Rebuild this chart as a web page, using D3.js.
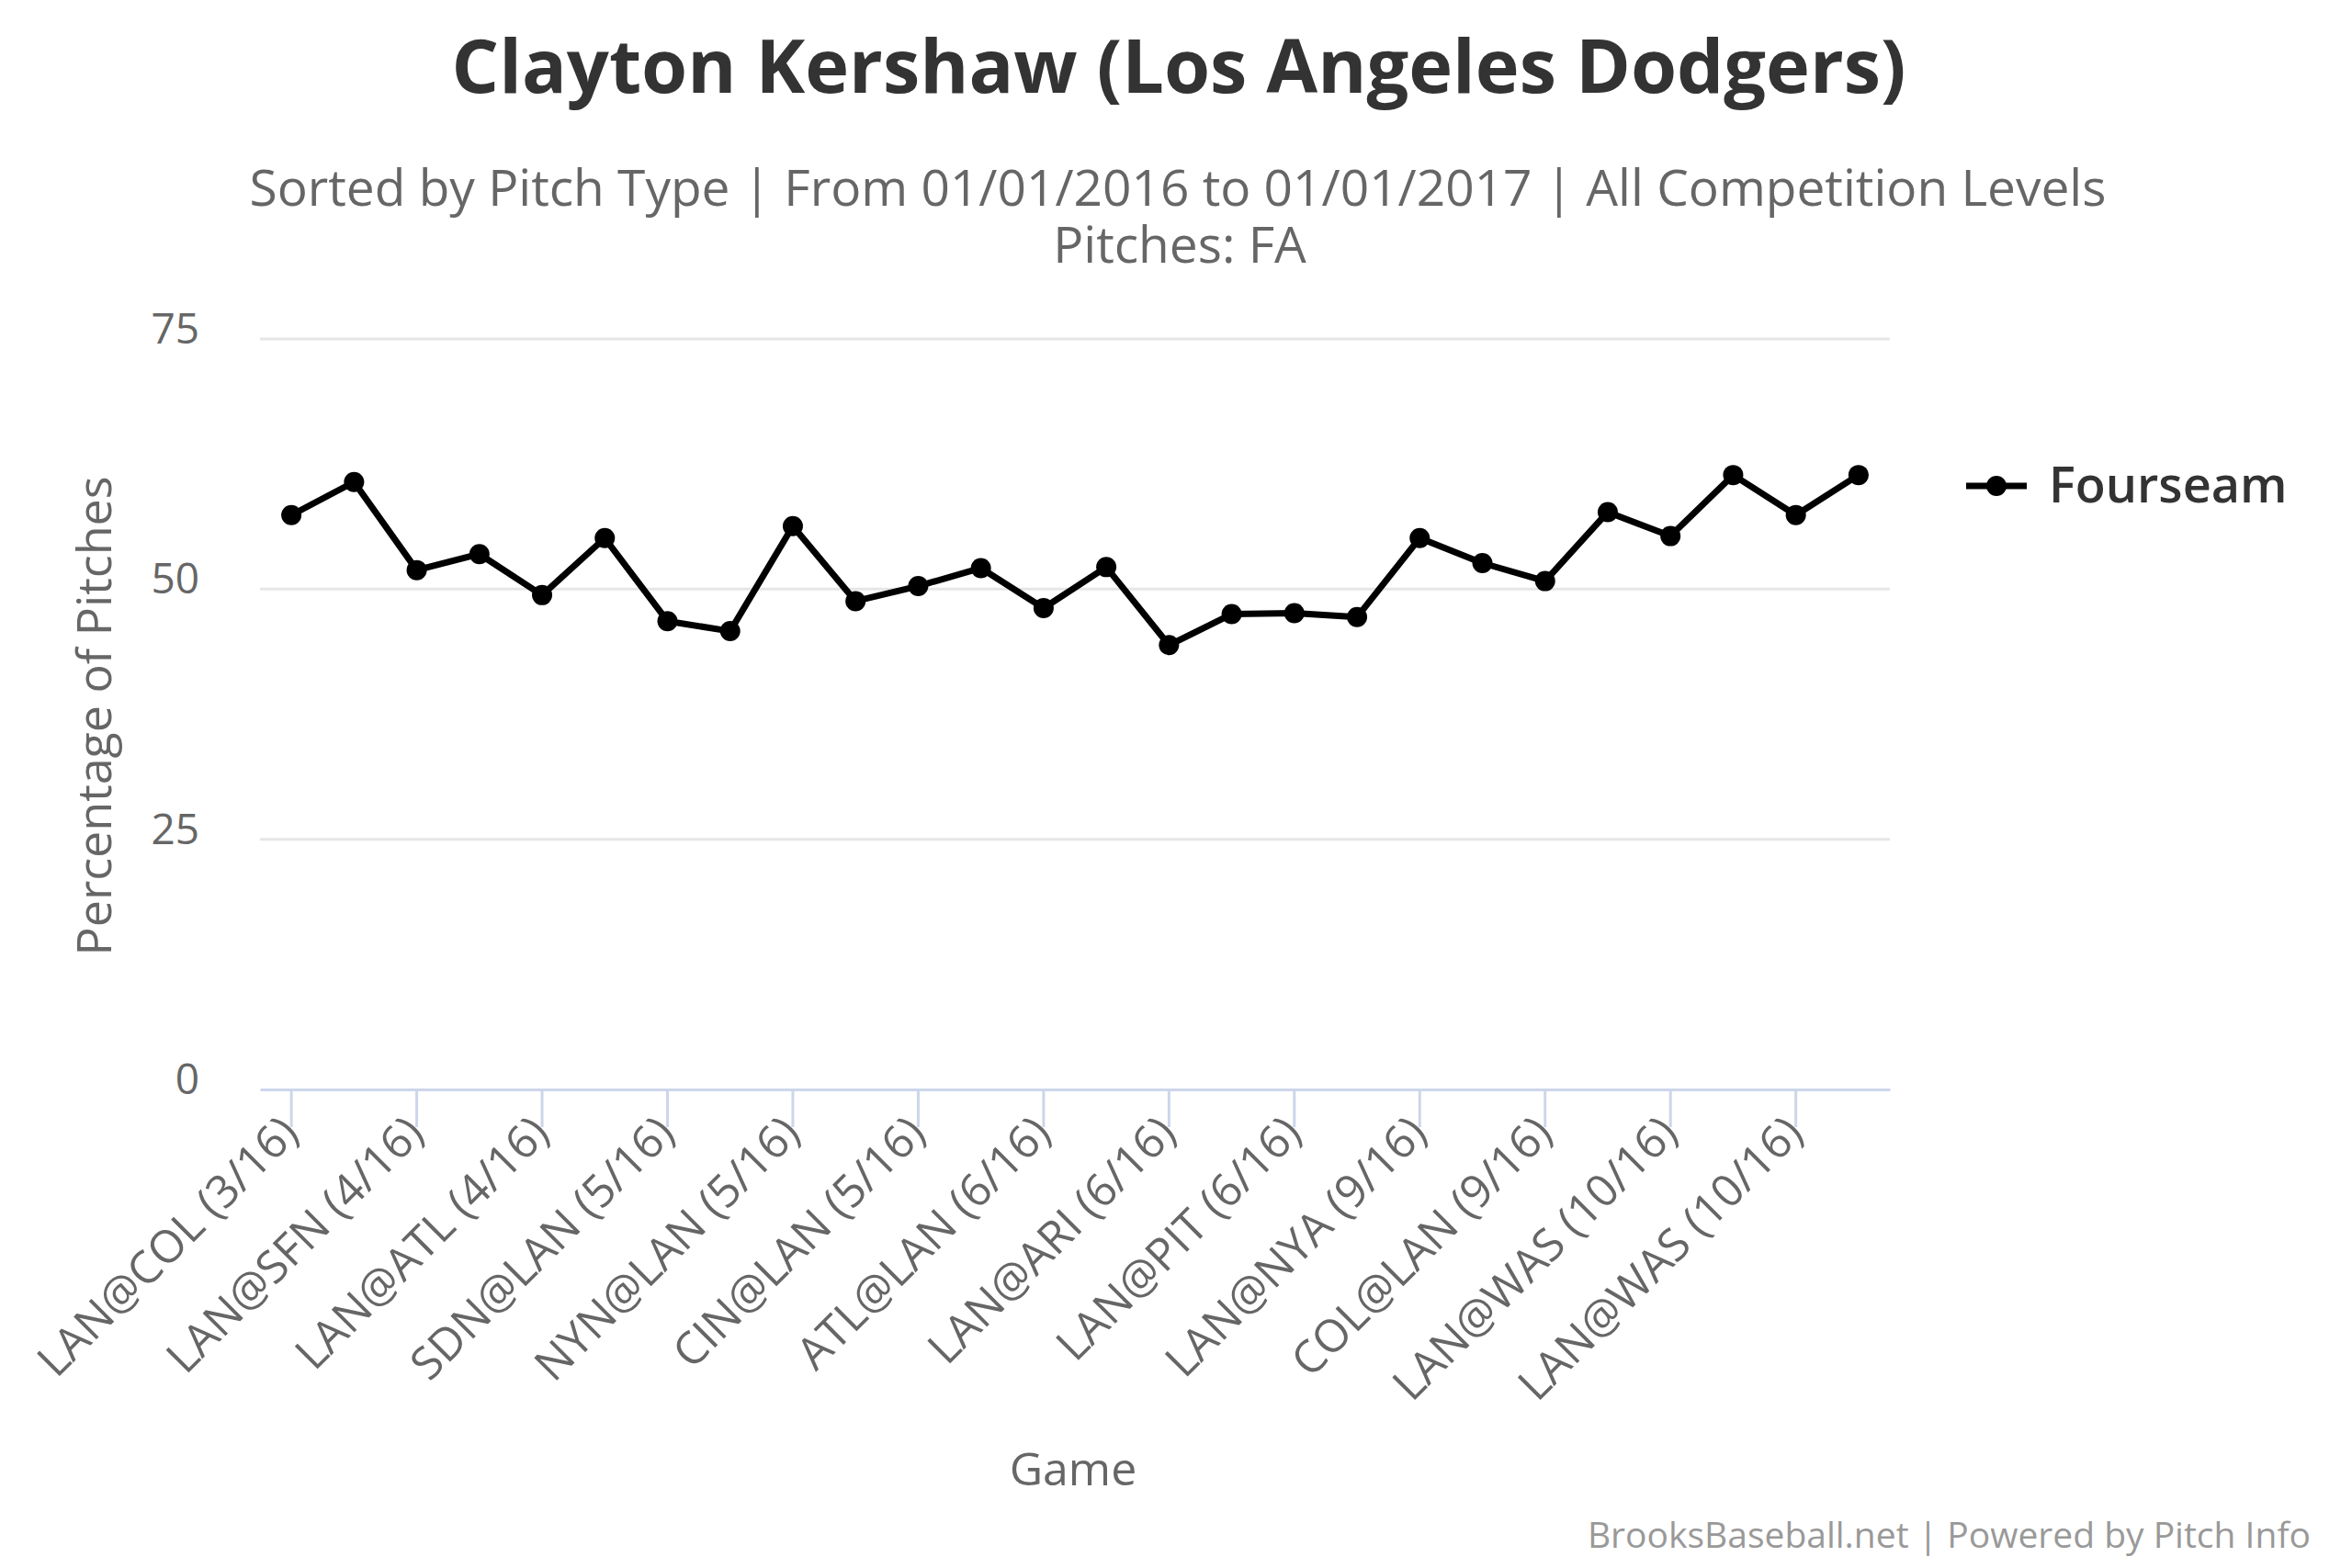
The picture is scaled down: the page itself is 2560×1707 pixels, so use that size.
<!DOCTYPE html>
<html>
<head>
<meta charset="utf-8">
<script src="https://cdn.jsdelivr.net/npm/d3@7"></script>
<style>
  body { margin: 0; background: #fff; }
  svg { font-family: "Open Sans", sans-serif; }
</style>
</head>
<body>
<svg id="chart"></svg>
<script>
let width = 2560
let height = 1707
let margin = {top: 369, right: 503, bottom: 521, left: 283}

// percentage of fourseam fastballs per game, 2016
let percentages = [57.4, 60.7, 51.9, 53.5, 49.4, 55.1, 46.8, 45.8, 56.3, 48.8, 50.3, 52.1, 48.1,
    52.2, 44.4, 47.5, 47.6, 47.2, 55.1, 52.6, 50.8, 57.7, 55.3, 61.4, 57.4, 61.4]

// only every other game is labelled on the axis
let tickLabels = ["LAN@COL (3/16)", "LAN@SFN (4/16)", "LAN@ATL (4/16)", "SDN@LAN (5/16)",
    "NYN@LAN (5/16)", "CIN@LAN (5/16)", "ATL@LAN (6/16)", "LAN@ARI (6/16)", "LAN@PIT (6/16)",
    "LAN@NYA (9/16)", "COL@LAN (9/16)", "LAN@WAS (10/16)", "LAN@WAS (10/16)"]

let yTicks = [0, 25, 50, 75]

let games = percentages.map((d, i) => i)
let data = percentages.map((d, i) => ({game: i, pct: d}))

let innerW = width - margin.left - margin.right
let innerH = height - margin.top - margin.bottom

let xScale = d3.scaleBand().domain(games).range([0, innerW])
let yScale = d3.scaleLinear().domain([0, 75]).range([innerH, 0])
let xPos = i => xScale(i) + xScale.bandwidth() / 2

let svg = d3.select("#chart")
    .attr("width", width)
    .attr("height", height)

svg.append("text")
    .text("Clayton Kershaw (Los Angeles Dodgers)")
    .attr("x", 1283)
    .attr("y", 101)
    .attr("text-anchor", "middle")
    .attr("font-size", 81)
    .attr("font-weight", "bold")
    .attr("fill", "#333333")

// subtitle is one text with two lines, like highcharts does it
let subtitle = svg.append("text")
    .attr("text-anchor", "middle")
    .attr("font-size", 55)
    .attr("fill", "#666666")
subtitle.append("tspan")
    .text("Sorted by Pitch Type | From 01/01/2016 to 01/01/2017 | All Competition Levels")
    .attr("x", 1282)
    .attr("y", 224)
subtitle.append("tspan")
    .text("Pitches: FA")
    .attr("x", 1284)
    .attr("y", 286)

let plot = svg.append("g").attr("transform", "translate(" + margin.left + "," + margin.top + ")")

// grid
plot.append("g")
    .selectAll("line")
    .data(yTicks.filter(d => d > 0))
    .enter()
    .append("line")
    .attr("x1", 0)
    .attr("x2", innerW)
    .attr("y1", d => yScale(d))
    .attr("y2", d => yScale(d))
    .attr("stroke", "#e6e6e6")
    .attr("stroke-width", 3)

// y axis
let yAxis = plot.append("g")
    .attr("id", "y_axis")
    .call(d3.axisLeft(yScale).tickValues(yTicks).tickSize(0).tickPadding(66))
yAxis.select(".domain").remove()
yAxis.selectAll("text")
    .attr("font-size", 46)
    .attr("fill", "#666666")
    .attr("font-family", "Open Sans, sans-serif")
    .attr("dy", "0.1em")

svg.append("text")
    .text("Percentage of Pitches")
    .attr("transform", "translate(103," + (margin.top + innerH / 2 + 2) + ") rotate(-90)")
    .attr("text-anchor", "middle")
    .attr("dy", "0.35em")
    .attr("font-size", 52)
    .attr("fill", "#666666")

// x axis
let tickGames = games.filter(d => d % 2 == 0)
let xAxis = plot.append("g")
    .attr("id", "x_axis")
    .attr("transform", "translate(0," + innerH + ")")
    .call(d3.axisBottom(xScale).tickValues(tickGames).tickSizeOuter(0).tickSizeInner(41)
        .tickFormat(d => tickLabels[d / 2]))
xAxis.select(".domain").attr("stroke", "#ccd6eb").attr("stroke-width", 3)
xAxis.selectAll(".tick line").attr("stroke", "#ccd6eb").attr("stroke-width", 3)
xAxis.selectAll("text")
    .attr("font-size", 49)
    .attr("fill", "#666666")
    .attr("font-family", "Open Sans, sans-serif")
    .style("text-anchor", "end")
    .attr("x", 0)
    .attr("y", 0)
    .attr("dy", "0")
    .attr("transform", "translate(10, 50) rotate(-45)")

svg.append("text")
    .text("Game")
    .attr("x", margin.left + innerW / 2 - 2)
    .attr("y", 1617)
    .attr("text-anchor", "middle")
    .attr("font-size", 50)
    .attr("fill", "#666666")

// line + markers
let line = d3.line()
    .x(d => xPos(d.game))
    .y(d => yScale(d.pct))

plot.append("path")
    .datum(data)
    .attr("d", line)
    .attr("fill", "none")
    .attr("stroke", "#000000")
    .attr("stroke-width", 7)
    .attr("stroke-linejoin", "round")

plot.append("g")
    .selectAll("circle")
    .data(data)
    .enter()
    .append("circle")
    .attr("cx", d => xPos(d.game))
    .attr("cy", d => yScale(d.pct))
    .attr("r", 11)
    .attr("fill", "#000000")

// legend
let legend = svg.append("g").attr("transform", "translate(2140,529)")
legend.append("line")
    .attr("x1", 0).attr("x2", 66)
    .attr("stroke", "#000000")
    .attr("stroke-width", 7)
legend.append("circle")
    .attr("cx", 33)
    .attr("r", 11)
    .attr("fill", "#000000")
legend.append("text")
    .text("Fourseam")
    .attr("x", 90)
    .attr("y", 18)
    .attr("font-size", 54)
    .attr("font-weight", 600)
    .attr("fill", "#333333")

svg.append("text")
    .text("BrooksBaseball.net | Powered by Pitch Info")
    .attr("x", 2515)
    .attr("y", 1685)
    .attr("text-anchor", "end")
    .attr("font-size", 39)
    .attr("fill", "#999999")
</script>
</body>
</html>
